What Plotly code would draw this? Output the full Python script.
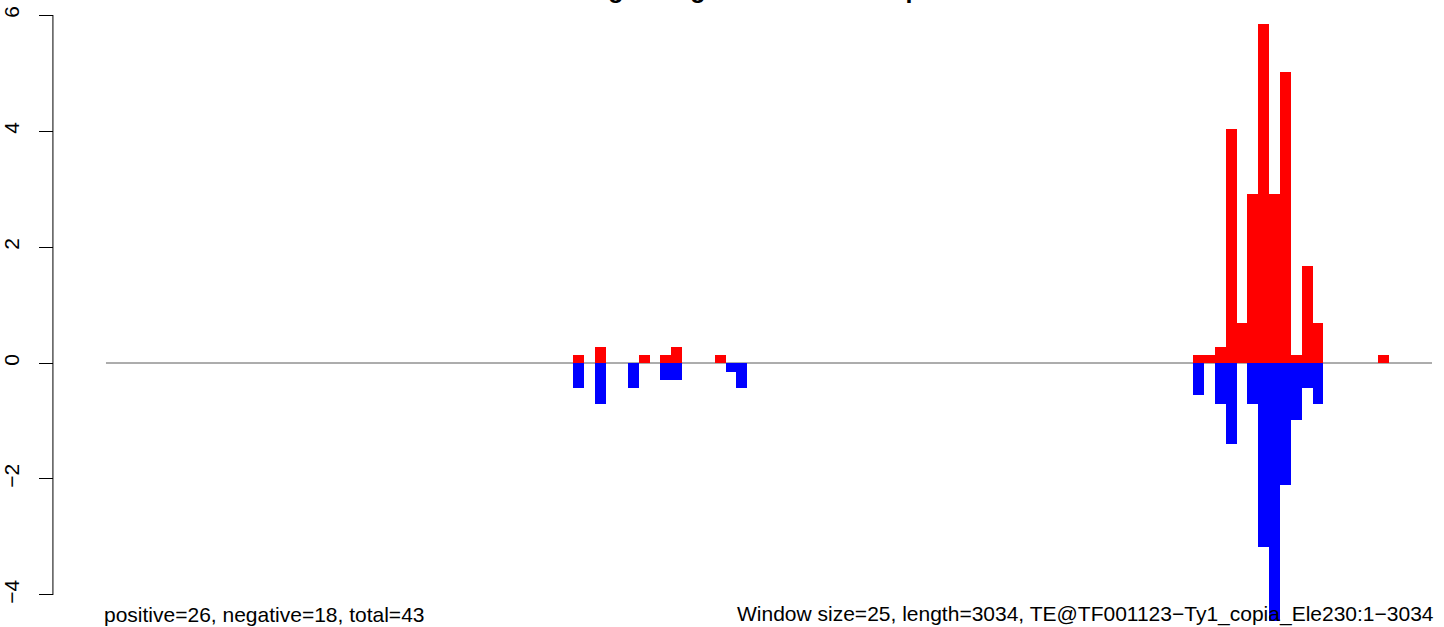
import plotly.graph_objects as go

# window start positions (window size 25) and signal values
window_size = 25
seq_end = 3050
pos_starts = [1075, 1125, 1225, 1275, 1300, 1400,
              2500, 2525, 2550, 2575, 2600, 2625, 2650, 2675, 2700, 2725, 2750, 2775, 2925]
pos_values = [0.14, 0.28, 0.14, 0.14, 0.28, 0.14,
              0.14, 0.14, 0.28, 4.03, 0.69, 2.91, 5.84, 2.91, 5.02, 0.14, 1.67, 0.69, 0.14]
neg_starts = [1075, 1125, 1200, 1275, 1300, 1425, 1450,
              2500, 2550, 2575, 2625, 2650, 2675, 2700, 2725, 2750, 2775]
neg_values = [-0.43, -0.70, -0.43, -0.29, -0.29, -0.15, -0.43,
              -0.56, -0.71, -1.39, -0.71, -3.18, -4.45, -2.10, -0.98, -0.43, -0.71]
y_ticks = [-4, -2, 0, 2, 4, 6]

title_text = "Reading TE signal on the TE map"
left_note = "positive=26, negative=18, total=43"
right_note = "Window size=25, length=3034, TE@TF001123\u2212Ty1_copia_Ele230:1\u22123034"

W, H = 1444, 627
font = "Liberation Sans, Arial, sans-serif"

fig = go.Figure()
fig.add_trace(go.Bar(x=pos_starts, y=pos_values, width=window_size, offset=0,
                     marker=dict(color="#FF0000", line=dict(width=0))))
fig.add_trace(go.Bar(x=neg_starts, y=neg_values, width=window_size, offset=0,
                     marker=dict(color="#0000FF", line=dict(width=0))))

# zero line and R-style axis line
fig.add_shape(type="line", xref="x", yref="y", x0=0, x1=seq_end, y0=0, y1=0,
              line=dict(color="#5a5a5a", width=1), layer="below")
fig.add_shape(type="line", xref="paper", yref="y", x0=51 / W, x1=51 / W,
              y0=min(y_ticks), y1=max(y_ticks), line=dict(color="black", width=1))

fig.add_annotation(text="<b>" + title_text + "</b>", xref="paper", yref="paper",
                   x=(768 - 104) / (1432 - 104), y=1, xanchor="center", yanchor="bottom",
                   yshift=-5, showarrow=False,
                   font=dict(size=25, color="black", family=font))
fig.add_annotation(text=left_note, xref="x", yref="paper", x=0, y=0,
                   xanchor="left", yanchor="bottom", xshift=-4, yshift=-1,
                   showarrow=False, font=dict(size=21, color="black", family=font))
fig.add_annotation(text=right_note, xref="x", yref="paper", x=seq_end, y=0,
                   xanchor="right", yanchor="bottom", xshift=4, yshift=-1,
                   showarrow=False, font=dict(size=21, color="black", family=font))

fig.update_layout(
    width=W, height=H,
    margin=dict(l=0, r=0, t=0, b=0),
    plot_bgcolor="white", paper_bgcolor="white",
    barmode="overlay", bargap=0,
    showlegend=False,
    font=dict(family=font, size=21, color="black"),
    xaxis=dict(domain=[104 / W, 1432 / W], range=[0, seq_end], visible=False),
    yaxis=dict(range=[-4.552, 6.259], anchor="free", position=51 / W,
               tickvals=y_ticks, ticks="outside", ticklen=14, tickwidth=1,
               tickcolor="black", tickangle=-90, ticklabelstandoff=12,
               showgrid=False, zeroline=False, showline=False),
)

fig.write_html("out.html", config={"displayModeBar": False},
               post_script="document.body.style.margin='0';document.body.style.overflow='hidden';")
